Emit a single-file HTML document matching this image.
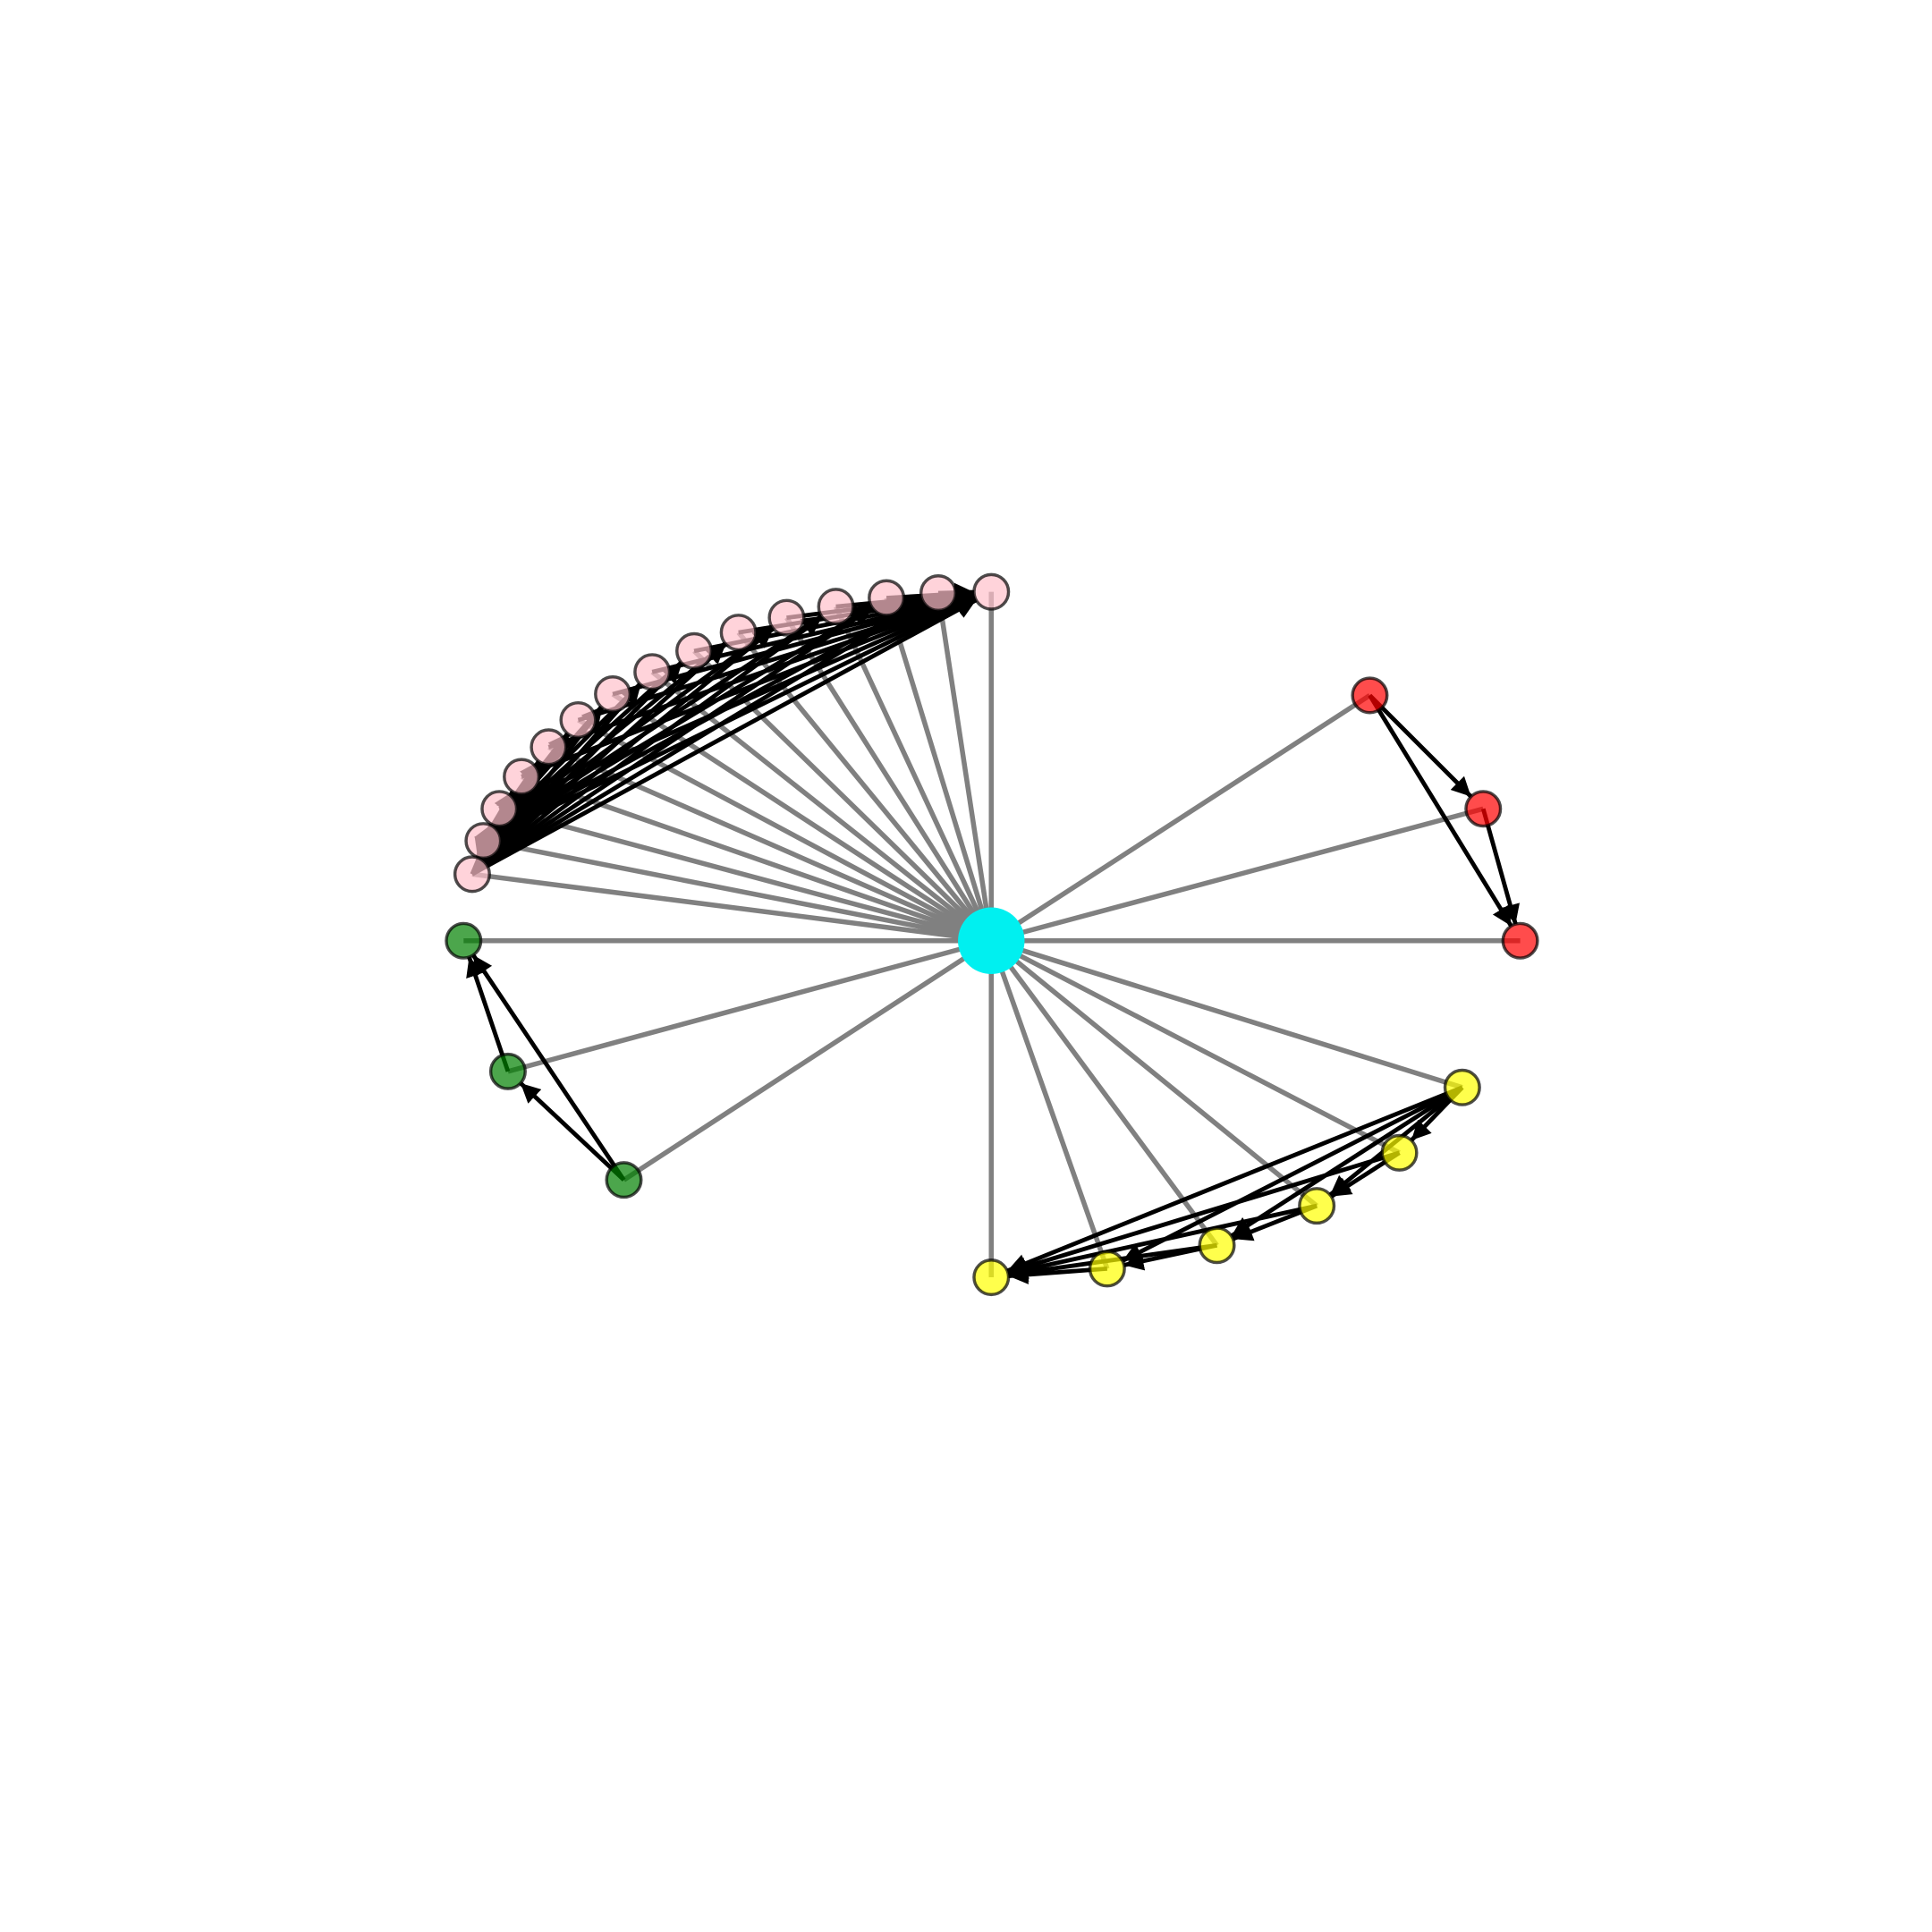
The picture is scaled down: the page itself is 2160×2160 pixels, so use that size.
<!DOCTYPE html>
<html><head><meta charset="utf-8"><style>html,body{margin:0;padding:0;background:#fff}svg{display:block}</style></head>
<body>
<svg id="chart" width="2160" height="2160" viewBox="0 0 1567 1567" xmlns="http://www.w3.org/2000/svg">
<defs><marker id="arr" viewBox="0 0 10 10" refX="10" refY="5" markerWidth="4.5" markerHeight="4.5" orient="auto"><path d="M0,0 L10,5 L0,10 z" fill="#000"/></marker></defs>
<g id="gray"></g><g id="black"></g><g id="nodes"></g>
</svg>
<script>
const center = [804, 763];
const pinkNodes = [[804,480],[761,481],[719,485],[678,492],[638,501],[599,513],[563,528],[529,545],[497,563],[469,584],[445,606],[423,630],[405,656],[392,682],[383,709]];
const greenNodes = [[376,763],[412,869],[506,957]];
const yellowNodes = [[804,1036],[898,1029],[987,1010],[1068,978],[1135,935],[1186,882]];
const redNodes = [[1233,763],[1203,656],[1111,564]];
const NS = 'http://www.w3.org/2000/svg';
const gGray = document.getElementById('gray'), gBlack = document.getElementById('black'), gNodes = document.getElementById('nodes');
function line(g, a, b, color, w, arrow, r) {
  const l = document.createElementNS(NS, 'line');
  let [x2, y2] = b;
  if (arrow) { const dx = b[0]-a[0], dy = b[1]-a[1], d = Math.hypot(dx, dy); x2 = b[0]-dx/d*r; y2 = b[1]-dy/d*r; l.setAttribute('marker-end', 'url(#arr)'); }
  l.setAttribute('x1', a[0]); l.setAttribute('y1', a[1]); l.setAttribute('x2', x2); l.setAttribute('y2', y2);
  l.setAttribute('stroke', color); l.setAttribute('stroke-width', w);
  
  
  g.appendChild(l);
}
const all = [...pinkNodes, ...greenNodes, ...yellowNodes, ...redNodes];
all.forEach(p => line(gGray, center, p, '#808080', 4, false));
pinkNodes.forEach((p, i) => { if (i > 0) line(gBlack, p, pinkNodes[0], '#000', 3.5, true, 14); });
pinkNodes.forEach((p, i) => { if (i !== 13 && i > 0) line(gBlack, pinkNodes[13], p, '#000', 3.5, true, 14); });
pinkNodes.forEach((p, i) => { if (i < 13 && i > 0) line(gBlack, pinkNodes[14], p, '#000', 3.5, true, 14); });
line(gBlack, greenNodes[2], greenNodes[1], '#000', 3.5, true, 14);
line(gBlack, greenNodes[2], greenNodes[0], '#000', 3.5, true, 14);
line(gBlack, greenNodes[1], greenNodes[0], '#000', 3.5, true, 14);
for (let i = 0; i < 5; i++) line(gBlack, yellowNodes[5], yellowNodes[i], '#000', 3.5, true, 14);
for (let i = 1; i < 5; i++) line(gBlack, yellowNodes[i], yellowNodes[i-1], '#000', 3.5, true, 14);
for (let i = 2; i < 5; i++) line(gBlack, yellowNodes[i], yellowNodes[0], '#000', 3.5, true, 14);
line(gBlack, redNodes[2], redNodes[1], '#000', 3.5, true, 14);
line(gBlack, redNodes[2], redNodes[0], '#000', 3.5, true, 14);
line(gBlack, redNodes[1], redNodes[0], '#000', 3.5, true, 14);
function node(p, fill, name) {
  const c = document.createElementNS(NS, 'circle');
  c.setAttribute('cx', p[0]); c.setAttribute('cy', p[1]); c.setAttribute('r', 14);
  c.setAttribute('fill', fill); c.setAttribute('fill-opacity', 0.7);
  c.setAttribute('stroke', '#000'); c.setAttribute('stroke-opacity', 0.7); c.setAttribute('stroke-width', 2.5);
  
  
  gNodes.appendChild(c);
}
pinkNodes.forEach(p => node(p, '#ffc0cb', 'pink-node'));
greenNodes.forEach(p => node(p, 'green', 'green-node'));
yellowNodes.forEach(p => node(p, 'yellow', 'yellow-node'));
redNodes.forEach(p => node(p, 'red', 'red-node'));
const hub = document.createElementNS(NS, 'circle');
hub.setAttribute('cx', center[0]); hub.setAttribute('cy', center[1]); hub.setAttribute('r', 27); hub.setAttribute('fill', '#00f0f0');


gNodes.appendChild(hub);
</script>
</body></html>
